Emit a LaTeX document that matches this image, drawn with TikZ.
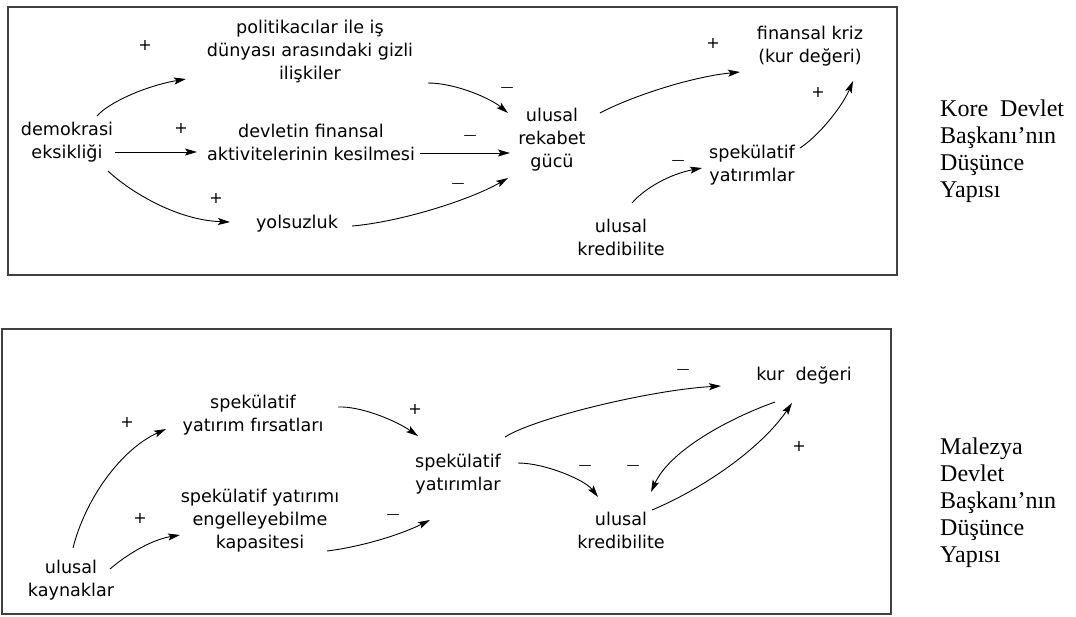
\documentclass[tikz,border=0pt]{standalone}
\usepackage{fontspec}
\setmainfont{DejaVu Sans}
\newfontfamily\serifside{Liberation Serif}
\usetikzlibrary{arrows.meta,calc}

\tikzset{
  lbl/.style={font=\fontsize{17.6}{23}\selectfont, align=center, inner sep=0pt},
  plus/.style={font=\fontsize{16}{16}\selectfont, inner sep=0pt},
  minus/.style={font=\fontsize{13}{13}\selectfont, inner sep=0pt},
  side/.style={font=\serifside\fontsize{24}{27}\selectfont, anchor=base west, inner sep=0pt},
  frame/.style={draw=black!75, line width=2pt},
  link/.style={line width=0.9pt, -{Stealth[length=12pt,width=7pt,inset=2.5pt]}},
}

\begin{document}
\begin{tikzpicture}[x=1pt,y=-1pt]
\useasboundingbox (0,0) rectangle (1076,616);

% ---------- upper loop diagram ----------
\draw[frame] (8,7) rectangle (897,275);

\node[lbl] (pol) at (310,52) {politikacılar ile iş\\dünyası arasındaki gizli\\ilişkiler};
\node[lbl] (dem) at (67,142) {demokrasi\\eksikliği};
\node[lbl] (dev) at (311,142) {devletin finansal\\aktivitelerinin kesilmesi};
\node[lbl] (yol) at (297,224) {yolsuzluk};
\node[lbl] (urg) at (552,140) {ulusal\\rekabet\\gücü};
\node[lbl] (fk)  at (810,46) {finansal kriz\\(kur değeri)};
\node[lbl] (sy)  at (752,165) {spekülatif\\yatırımlar};
\node[lbl] (uk)  at (621,237) {ulusal\\kredibilite};

\draw[link] ($(dem)+(30,-26)$) .. controls (108,103) and (145,86) .. ($(pol)+(-124,27)$);
\draw[link] ($(dem)+(48,10)$) -- ($(dev)+(-114,10)$);
\draw[link] ($(dem)+(41,29)$) .. controls (128,190) and (175,220) .. ($(yol)+(-67,-2)$);
\draw[link] ($(pol)+(118,31)$) .. controls (455,83) and (490,98) .. ($(urg)+(-44,-27)$);
\draw[link] ($(dev)+(109,11)$) -- ($(urg)+(-42,13)$);
\draw[link] ($(yol)+(55,2)$) .. controls (400,222) and (470,200) .. ($(urg)+(-44,38)$);
\draw[link] ($(urg)+(48,-27)$) .. controls (630,97) and (690,77) .. ($(fk)+(-70,26)$);
\draw[link] ($(uk)+(11,-34)$) .. controls (645,188) and (670,174) .. ($(sy)+(-50,3)$);
\draw[link] ($(sy)+(48,-17)$) .. controls (820,135) and (843,105) .. ($(fk)+(43,35)$);

\node[plus]  (p1) at (145,45) {+};
\node[plus]  (p2) at (181,128) {+};
\node[plus]  (p3) at (216,198) {+};
\node[plus]  (p4) at (713,43) {+};
\node[plus]  (p5) at (818,92) {+};
\node[minus] (m1) at (507,89) {—};
\node[minus] (m2) at (470,137) {—};
\node[minus] (m3) at (458,185) {—};
\node[minus] (m4) at (678,162) {—};

\node[side] (k1) at (940,116) {Kore\ \ Devlet};
\node[side] (k2) at (940,143) {Başkanı’nın};
\node[side] (k3) at (940,170) {Düşünce};
\node[side] (k4) at (940,197) {Yapısı};

% ---------- lower loop diagram ----------
\draw[frame] (2,329) rectangle (891,614);

\node[lbl] (syf) at (253,415) {spekülatif\\yatırım fırsatları};
\node[lbl] (sye) at (260,521) {spekülatif yatırımı\\engelleyebilme\\kapasitesi};
\node[lbl] (uky) at (71,580) {ulusal\\kaynaklar};
\node[lbl] (sy2) at (458,474) {spekülatif\\yatırımlar};
\node[lbl] (uk2) at (621,530) {ulusal\\kredibilite};
\node[lbl] (kd)  at (804,375) {kur\ \ değeri};

\draw[link] ($(uky)+(2,-32)$) .. controls (85,500) and (120,450) .. ($(syf)+(-87,14)$);
\draw[link] ($(uky)+(39,-11)$) .. controls (125,556) and (150,540) .. ($(sye)+(-80,14)$);
\draw[link] ($(syf)+(85,-8)$) .. controls (360,406) and (395,420) .. ($(sy2)+(-40,-38)$);
\draw[link] ($(sye)+(67,30)$) .. controls (360,547) and (400,535) .. ($(sy2)+(-28,46)$);
\draw[link] ($(sy2)+(47,-37)$) .. controls (535,418) and (650,390) .. ($(kd)+(-83,11)$);
\draw[link] ($(sy2)+(60,-11)$) .. controls (545,463) and (585,480) .. ($(uk2)+(-23,-33)$);
\draw[link] ($(kd)+(-29,27)$) .. controls (730,418) and (670,450) .. ($(uk2)+(30,-38)$);
\draw[link] ($(uk2)+(31,-20)$) .. controls (700,490) and (760,450) .. ($(kd)+(-12,28)$);

\node[plus]  (q1) at (127,422) {+};
\node[plus]  (q2) at (140,518) {+};
\node[plus]  (q3) at (415,409) {+};
\node[plus]  (q4) at (799,446) {+};
\node[minus] (n1) at (393,516) {—};
\node[minus] (n2) at (683,371) {—};
\node[minus] (n3) at (585,467) {—};
\node[minus] (n4) at (633,467) {—};

\node[side] (c1) at (940,454) {Malezya};
\node[side] (c2) at (940,481) {Devlet};
\node[side] (c3) at (940,508) {Başkanı’nın};
\node[side] (c4) at (940,535) {Düşünce};
\node[side] (c5) at (940,562) {Yapısı};
\end{tikzpicture}
\end{document}
